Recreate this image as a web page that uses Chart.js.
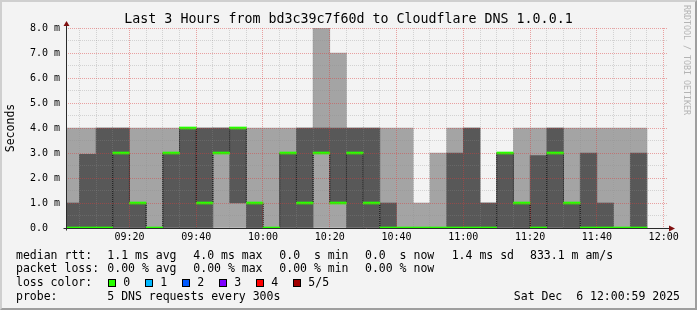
<!DOCTYPE html>
<html>
<head>
<meta charset="utf-8">
<title>Last 3 Hours from bd3c39c7f60d to Cloudflare DNS 1.0.0.1</title>
<script src="https://cdn.jsdelivr.net/npm/chart.js@4"></script>
<style>
  html, body { margin: 0; padding: 0; background: #ffffff; }
  #graph {
    position: relative; width: 697px; height: 310px; overflow: hidden;
    background: #f3f3f3; color: #000;
    font-family: "DejaVu Sans Mono", monospace;
  }
  #graph canvas { position: absolute; left: 0; top: 0; }
  #frame {
    position: absolute; left: 0; top: 0; width: 697px; height: 310px;
    box-sizing: border-box; border: 2px solid;
    border-color: #cfcfcf #9e9e9e #9e9e9e #cfcfcf; pointer-events: none;
  }
  #title {
    position: absolute; left: 0; top: 11px; width: 697px; text-align: center;
    font-size: 13.3px; line-height: 16px; white-space: pre;
  }
  #credit {
    position: absolute; left: 682px; top: 5px; writing-mode: vertical-rl;
    font-size: 8.3px; line-height: 10px; color: #b4b4b4; white-space: pre;
  }
  .txt { position: absolute; white-space: pre; font-size: 11.5px; line-height: 14px; }
  .box { position: absolute; width: 8px; height: 8px; box-sizing: border-box; border: 1px solid #000; }
</style>
</head>
<body>
<div id="graph">
  <canvas id="chart" width="697" height="310"></canvas>
  <div id="title">Last 3 Hours from bd3c39c7f60d to Cloudflare DNS 1.0.0.1</div>
  <div id="credit">RRDTOOL / TOBI OETIKER</div>
  <div id="legend"></div>
  <div id="frame"></div>
</div>
<script>
// 5 minute slots, 5 DNS pings each, sorted low to high (ms)
const slotStart = [
  "09:00", "09:05", "09:10", "09:15", "09:20", "09:25", "09:30", "09:35", "09:40",
  "09:45", "09:50", "09:55", "10:00", "10:05", "10:10", "10:15", "10:20", "10:25",
  "10:30", "10:35", "10:40", "10:45", "10:50", "10:55", "11:00", "11:05", "11:10",
  "11:15", "11:20", "11:25", "11:30", "11:35", "11:40", "11:45", "11:50",
];
const pingMin = [0, 0, 0, 0, 0, 0, 0, 0, 0, 0, 0, 0, 0, 0, 0, 0, 0, 0, 0, 0, 0, 0, 0, 0, 0, 0, 0, 0, 0, 0, 0, 0, 0, 0, 0];
const ping2 = [0, 0, 0, 0, 0, 0, 0, 0, 0, 3, 1, 0, 0, 0, 0, 3, 1, 0, 0, 0, 0, 0, 0, 0, 0, 0, 0, 0, 0, 0, 0, 0, 0, 0, 0];
const medianRtt = [0, 0, 0, 3, 1, 0, 3, 4, 1, 3, 4, 1, 0, 3, 1, 3, 1, 3, 1, 0, 0, 0, 0, 0, 0, 0, 3, 1, 0, 3, 1, 0, 0, 0, 0];
const ping4 = [1, 2.95, 4, 4, 1, 0, 3, 4, 4, 4, 4, 1, 0, 3, 4, 4, 4, 4, 4, 1, 0, 0, 0, 3, 4, 1, 3, 1, 2.9, 4, 1, 3, 1, 0, 3];
const pingMax = [4, 4, 4, 4, 4, 4, 4, 4, 4, 4, 4, 4, 4, 4, 4, 8, 7, 4, 4, 4, 4, 1, 3, 4, 4, 1, 3, 4, 4, 4, 4, 4, 4, 4, 4];

const timeLabels = ["09:20", "09:40", "10:00", "10:20", "10:40", "11:00", "11:20", "11:40", "12:00"];
const secondsLabels = ["0.0  ", "1.0 m", "2.0 m", "3.0 m", "4.0 m", "5.0 m", "6.0 m", "7.0 m", "8.0 m"];
const lossLabels = ["0", "1", "2", "3", "4", "5/5"];
const lossColors = ["#26ff00", "#00b8ff", "#0059ff", "#7e00ff", "#ff0000", "#a10000"];

const legendRows = [
  [[16, "median rtt:"], [107.3, "1.1 ms avg"], [193.3, "4.0 ms max"], [279.3, "0.0  s min"],
   [365, "0.0  s now"], [451.7, "1.4 ms sd"], [530, "833.1 m am/s"]],
  [[16, "packet loss:"], [107.3, "0.00 % avg"], [193.3, "0.00 % max"], [279.3, "0.00 % min"], [365, "0.00 % now"]],
  [[16, "loss color:"]],
  [[16, "probe:"], [107.3, "5 DNS requests every 300s"]],
];
const dateStamp = "Sat Dec  6 12:00:59 2025";

const MONO = "DejaVu Sans Mono";

function toMinutes(hhmm) {
  const [h, m] = hhmm.split(":").map(Number);
  return (h - 9) * 60 + m;
}

function fmtTime(min) {
  const h = 9 + Math.floor(min / 60);
  const m = min % 60;
  return String(h).padStart(2, "0") + ":" + String(m).padStart(2, "0");
}

function buildLegend() {
  const box = document.getElementById("legend");
  const rowTop = [247.5, 261, 275, 288.5];
  legendRows.forEach((row, r) => {
    row.forEach(([x, text]) => {
      const el = document.createElement("div");
      el.className = "txt";
      el.style.left = x + "px";
      el.style.top = rowTop[r] + "px";
      el.textContent = text;
      box.appendChild(el);
    });
  });
  lossLabels.forEach((label, i) => {
    const sq = document.createElement("div");
    sq.className = "box";
    sq.style.left = 108.3 + i * 37 + "px";
    sq.style.top = "279px";
    sq.style.background = lossColors[i];
    box.appendChild(sq);
    const el = document.createElement("div");
    el.className = "txt";
    el.style.left = 123.3 + i * 37 + "px";
    el.style.top = rowTop[2] + "px";
    el.textContent = label;
    box.appendChild(el);
  });
  const date = document.createElement("div");
  date.className = "txt";
  date.style.right = 697 - 680 + "px";
  date.style.top = rowTop[3] + "px";
  date.textContent = dateStamp;
  box.appendChild(date);
}

// axis lines with the rrdtool arrow heads
const axisArrows = {
  id: "axisArrows",
  afterDraw(chart) {
    const { ctx, chartArea: a } = chart;
    const x0 = Math.round(a.left) + 0.5;
    const y0 = Math.round(a.bottom) + 0.5;
    ctx.save();
    ctx.strokeStyle = "#2a2a2a";
    ctx.lineWidth = 1;
    ctx.beginPath();
    ctx.moveTo(x0, y0 + 2);
    ctx.lineTo(x0, a.top - 3);
    ctx.moveTo(x0 - 3, y0);
    ctx.lineTo(a.right + 3, y0);
    ctx.stroke();
    ctx.fillStyle = "#801010";
    ctx.beginPath();
    ctx.moveTo(x0, a.top - 7);
    ctx.lineTo(x0 + 3, a.top - 2);
    ctx.lineTo(x0 - 3, a.top - 2);
    ctx.closePath();
    ctx.fill();
    ctx.beginPath();
    ctx.moveTo(a.right + 8, y0);
    ctx.lineTo(a.right + 2, y0 - 3);
    ctx.lineTo(a.right + 2, y0 + 3);
    ctx.closePath();
    ctx.fill();
    ctx.restore();
  },
};

function renderChart() {
  const centers = slotStart.map((t) => toMinutes(t) + 2.5);
  const lightSmoke = centers.map((x, i) => ({ x, y: [pingMin[i], pingMax[i]] }));
  const darkSmoke = centers.map((x, i) => ({ x, y: [ping2[i], ping4[i]] }));
  const medianMark = centers.map((x, i) => ({ x, y: [medianRtt[i] - 0.04, medianRtt[i] + 0.04] }));
  const medianStep = centers.map((x, i) => ({ x, y: medianRtt[i] }));

  const xGrid = [];
  for (let m = 5; m <= 180; m += 5) xGrid.push(m);
  const yGrid = [];
  for (let v = 0; v <= 8; v += 0.5) yGrid.push(v);

  const barStyle = {
    type: "bar",
    grouped: false,
    barPercentage: 1,
    categoryPercentage: 1,
    borderWidth: 0,
  };

  new Chart(document.getElementById("chart"), {
    data: {
      datasets: [
        { ...barStyle, label: "median", data: medianMark, backgroundColor: lossColors[0], order: 0 },
        {
          type: "line",
          label: "step",
          data: medianStep,
          stepped: "middle",
          borderColor: "#000",
          borderWidth: 1,
          borderDash: [1, 1],
          pointRadius: 0,
          fill: false,
          order: 1,
        },
        { ...barStyle, label: "ping 2-4", data: darkSmoke, backgroundColor: "#585858", order: 2 },
        { ...barStyle, label: "ping 1-5", data: lightSmoke, backgroundColor: "#a4a4a4", order: 3 },
      ],
    },
    options: {
      responsive: false,
      animation: false,
      devicePixelRatio: 1,
      layout: { padding: { top: 28, right: 30, bottom: 0, left: 0 } },
      plugins: {
        legend: { display: false },
        tooltip: { enabled: false },
        title: { display: false },
      },
      scales: {
        x: {
          type: "linear",
          min: 1,
          max: 181,
          offset: false,
          afterBuildTicks: (scale) => {
            scale.ticks = xGrid.map((value) => ({ value }));
          },
          afterFit: (scale) => {
            scale.height = 82;
          },
          ticks: {
            autoSkip: false,
            maxRotation: 0,
            padding: 3,
            color: "#000",
            font: { family: MONO, size: 10 },
            callback: (v) => (timeLabels.includes(fmtTime(v)) ? fmtTime(v) : ""),
          },
          grid: {
            z: 1,
            offset: false,
            drawTicks: false,
            lineWidth: 1,
            color: (c) => (c.tick && c.tick.value % 20 === 0 ? "rgba(220,60,60,0.45)" : "rgba(140,140,140,0.32)"),
          },
          border: { display: false, dash: [1, 1] },
        },
        y: {
          min: 0,
          max: 8,
          afterBuildTicks: (scale) => {
            scale.ticks = yGrid.map((value) => ({ value }));
          },
          afterFit: (scale) => {
            scale.width = 66;
          },
          ticks: {
            autoSkip: false,
            padding: 6,
            color: "#000",
            font: { family: MONO, size: 10 },
            callback: (v) => (Number.isInteger(v) ? secondsLabels[v] : ""),
          },
          grid: {
            z: 1,
            drawTicks: false,
            lineWidth: 1,
            color: (c) => (c.tick && Number.isInteger(c.tick.value) ? "rgba(220,60,60,0.45)" : "rgba(140,140,140,0.32)"),
          },
          border: { display: false, dash: [1, 1] },
          title: {
            display: true,
            text: "Seconds",
            color: "#000",
            font: { family: MONO, size: 11.5 },
            padding: { top: 4, bottom: 4 },
          },
        },
      },
    },
    plugins: [axisArrows],
  });
}

buildLegend();
renderChart();
</script>
</body>
</html>
